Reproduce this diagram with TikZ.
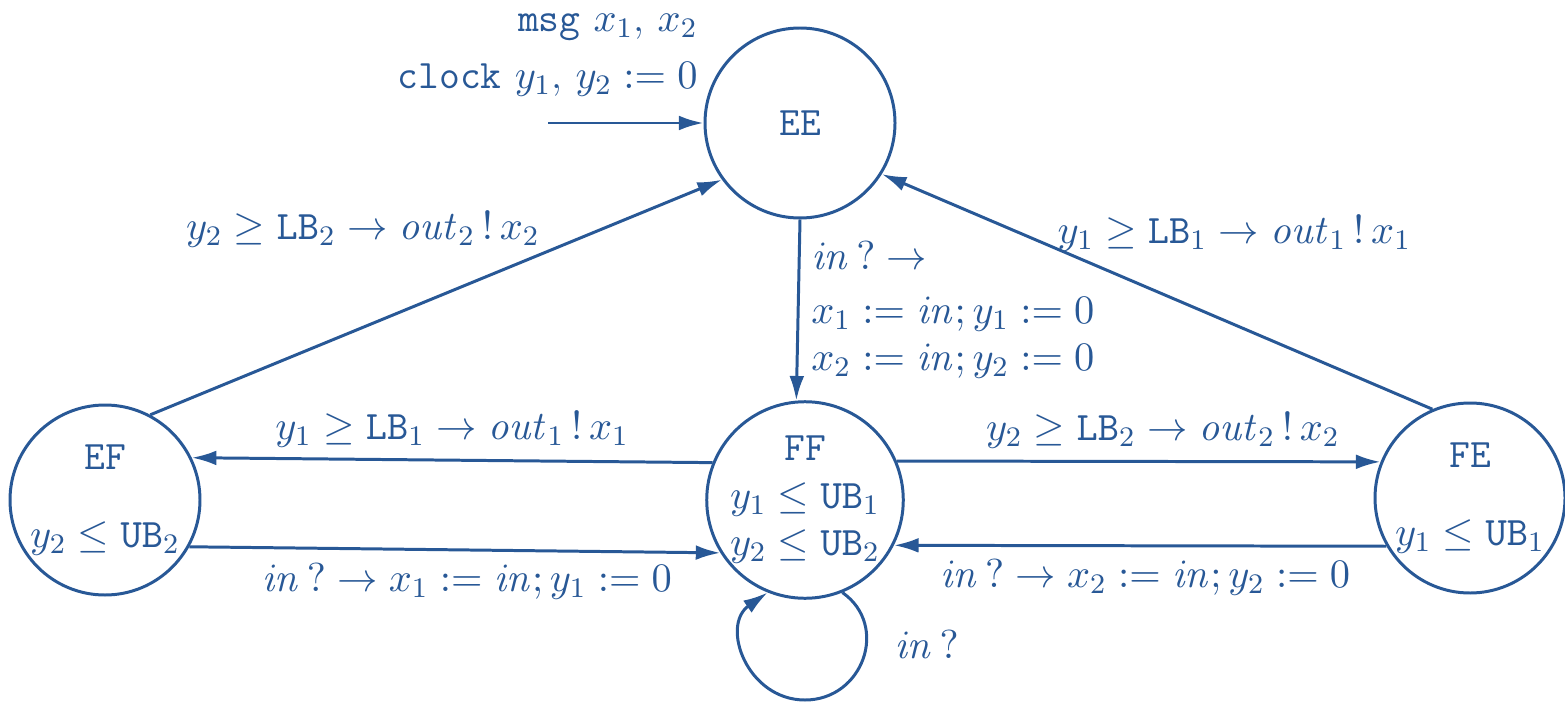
\RequirePackage{fix-cm}
\documentclass[tikz,border=0pt]{standalone}
\usepackage{amsmath,amssymb}
\usepackage{xcolor}
\usetikzlibrary{arrows.meta}
\definecolor{ink}{RGB}{40,88,150}
\newcommand{\chin}{\mathit{in}}
\newcommand{\chout}[1]{\mathit{out}_{#1}}
\tikzset{
  loc/.style={draw,circle,minimum size=19mm,inner sep=0pt,align=center,line width=0.85pt},
  tr/.style={-{Latex[length=7pt,width=4.2pt]},line width=0.85pt},
  dlbl/.style={inner sep=1pt},
}
\begin{document}
\begin{tikzpicture}[color=ink,font=\fontsize{11.5}{13.5}\selectfont]
  \useasboundingbox (0,0) rectangle (15.65,7.01);
  % locations
  \node[loc] (EE) at (8.00,5.78) {\texttt{EE}};
  \node[loc] (EF) at (1.05,2.01) {\texttt{EF}\\[3.1mm]$y_2\le\mathtt{UB}_2$};
  \node[loc] (FF) at (8.05,2.01) {\texttt{FF}\\$y_1\le\mathtt{UB}_1$\\$y_2\le\mathtt{UB}_2$};
  \node[loc] (FE) at (14.70,2.03) {\texttt{FE}\\[3.1mm]$y_1\le\mathtt{UB}_1$};
  % initial location
  \coordinate (init) at (5.48,5.78);
  \node[anchor=east,align=right] (decl) at (7.10,6.46) {\texttt{msg} $x_1$, $x_2$\\[1mm]\texttt{clock} $y_1$, $y_2 := 0$};
  \draw[tr] (init) -- (EE.west);
  % transitions
  \draw[tr] (EF.62) -- node[dlbl,pos=0.69,anchor=south east] {$y_2\ge\mathtt{LB}_2\to\chout{2}\,!\,x_2$} (EE.216);
  \draw[tr] (FE.113) -- node[dlbl,pos=0.69,anchor=south west,yshift=-0.9mm] {$y_1\ge\mathtt{LB}_1\to\chout{1}\,!\,x_1$} (EE.-32);
  \draw[tr] (EE.-90) -- node[midway,right,align=left] {$\chin\,?\to$\\[0.6mm]$x_1 := \chin; y_1 := 0$\\$x_2 := \chin; y_2 := 0$} (FF.95);
  \draw[tr] (FF.158) -- node[midway,above] {$y_1\ge\mathtt{LB}_1\to\chout{1}\,!\,x_1$} (EF.26);
  \draw[tr] (EF.-29) -- node[midway,below,xshift=1.2mm] {$\chin\,?\to x_1 := \chin; y_1 := 0$} (FF.212);
  \draw[tr] (FF.23) -- node[pos=0.55,above] {$y_2\ge\mathtt{LB}_2\to\chout{2}\,!\,x_2$} (FE.158);
  \draw[tr] (FE.210) -- node[midway,below,xshift=0.5mm] {$\chin\,?\to x_2 := \chin; y_2 := 0$} (FF.-27);
  % self loop on FF
  \coordinate (loopb) at (8.05,0.01);
  \draw[tr] (FF.-68) to[out=-35,in=0,looseness=1.3] node[pos=0.4,right,xshift=1.5mm] {$\chin\,?$} (loopb)
    to[out=180,in=-145,looseness=1.3] (FF.-112);
\end{tikzpicture}
\end{document}
